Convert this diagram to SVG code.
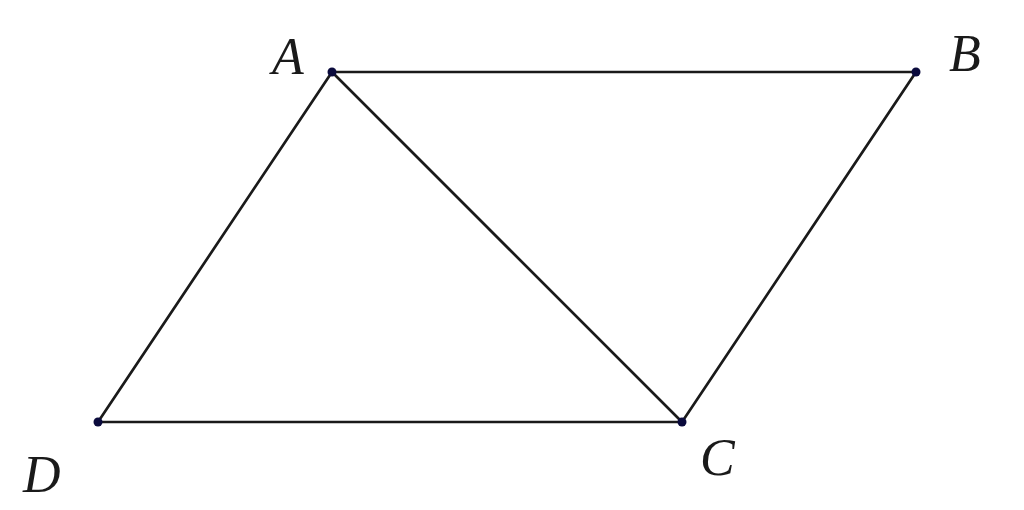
<svg xmlns="http://www.w3.org/2000/svg" width="1024" height="510" viewBox="0 0 1024 510">
<style>
.seg{stroke:#1a1a1a;stroke-width:2.7;fill:none;stroke-linecap:round}
.pt{fill:#0a0a3c}
.lbl{font-family:"Liberation Serif",serif;font-style:italic;font-size:52px;fill:#1a1a1a}
</style>
<rect width="1024" height="510" fill="#ffffff"/>
<g id="connectors">
<line class="seg" x1="332" y1="72" x2="916" y2="72"/>
<line class="seg" x1="916" y1="72" x2="682" y2="422"/>
<line class="seg" x1="682" y1="422" x2="98" y2="422"/>
<line class="seg" x1="98" y1="422" x2="332" y2="72"/>
<line class="seg" x1="332" y1="72" x2="682" y2="422"/>
</g>
<g id="A"><circle class="pt" cx="332" cy="72" r="4.5"/><text class="lbl" x="272" y="74">A</text></g>
<g id="B"><circle class="pt" cx="916" cy="72" r="4.5"/><text class="lbl" x="949" y="71">B</text></g>
<g id="C"><circle class="pt" cx="682" cy="422" r="4.5"/><text class="lbl" x="700" y="475">C</text></g>
<g id="D"><circle class="pt" cx="98" cy="422" r="4.5"/><text class="lbl" x="23" y="492">D</text></g>
</svg>
